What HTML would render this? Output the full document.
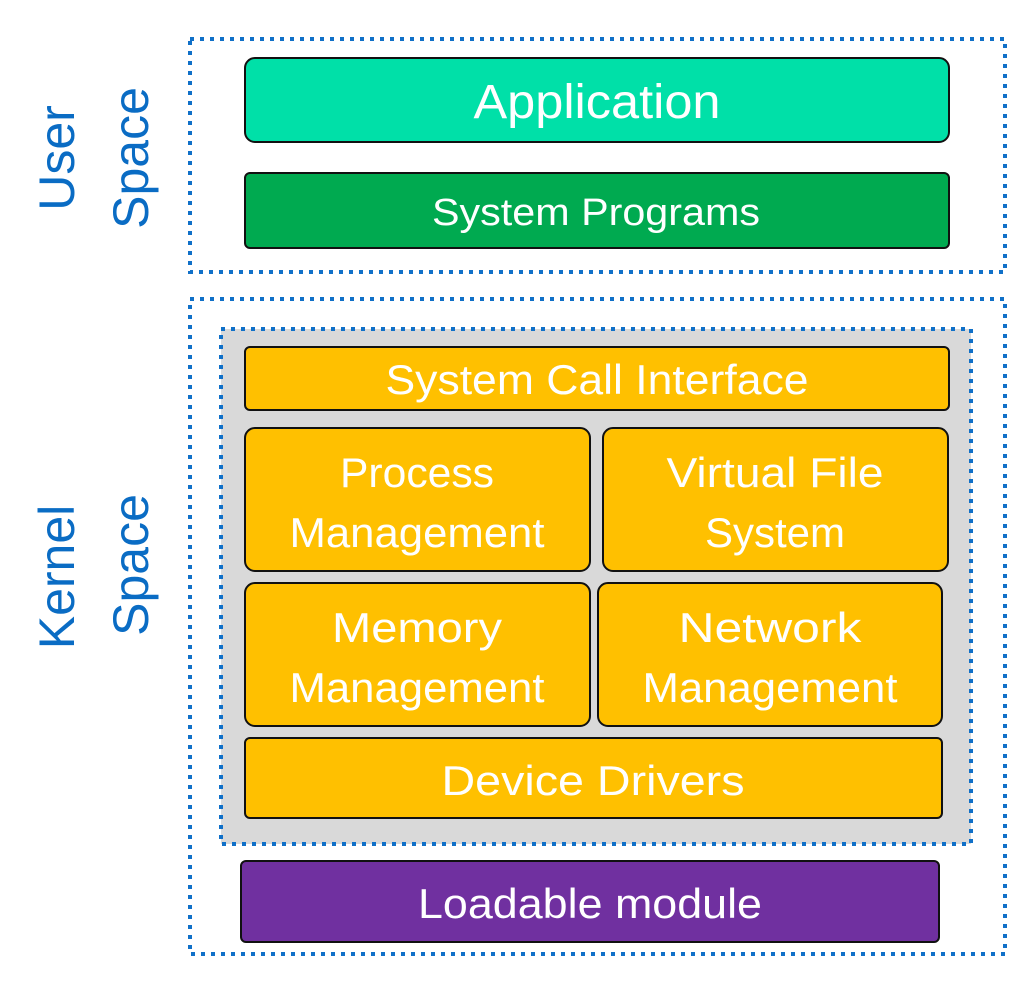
<!DOCTYPE html>
<html><head><style>body{margin:0;background:#fff}svg{display:block}text{font-family:"Liberation Sans",sans-serif}</style></head>
<body>
<svg width="1035" height="998" viewBox="0 0 1035 998" xmlns="http://www.w3.org/2000/svg">
<g fill="none" stroke="#1070C8" stroke-width="4" stroke-dasharray="4 6">
<rect x="190" y="39" width="815" height="233"/>
<rect x="190" y="299" width="815" height="655"/>
</g>
<rect x="221" y="329" width="750" height="515" fill="#D9D9D9" stroke="#1070C8" stroke-width="4" stroke-dasharray="4 6"/>
<g stroke="#111" stroke-width="2">
<rect x="245" y="58" width="704" height="84" rx="10" fill="#00E0A8"/>
<rect x="245" y="173" width="704" height="75" rx="5" fill="#00AA50"/>
<rect x="245" y="347" width="704" height="63" rx="5" fill="#FFC000"/>
<rect x="245" y="428" width="345" height="143" rx="10" fill="#FFC000"/>
<rect x="603" y="428" width="345" height="143" rx="10" fill="#FFC000"/>
<rect x="245" y="583" width="345" height="143" rx="10" fill="#FFC000"/>
<rect x="598" y="583" width="344" height="143" rx="10" fill="#FFC000"/>
<rect x="245" y="738" width="697" height="80" rx="5" fill="#FFC000"/>
<rect x="241" y="861" width="698" height="81" rx="5" fill="#7030A0"/>
</g>
<g fill="#fff" text-anchor="middle" font-size="42" lengthAdjust="spacingAndGlyphs">
<text x="597" y="118" font-size="48" textLength="247" lengthAdjust="spacingAndGlyphs">Application</text>
<text x="596" y="225" font-size="38" textLength="328" lengthAdjust="spacingAndGlyphs">System Programs</text>
<text x="597" y="394" textLength="423" lengthAdjust="spacingAndGlyphs">System Call Interface</text>
<text x="417" y="487" textLength="154" lengthAdjust="spacingAndGlyphs">Process</text>
<text x="417" y="547" textLength="255" lengthAdjust="spacingAndGlyphs">Management</text>
<text x="775" y="487" textLength="217" lengthAdjust="spacingAndGlyphs">Virtual File</text>
<text x="775" y="547" textLength="140" lengthAdjust="spacingAndGlyphs">System</text>
<text x="417" y="642" textLength="170" lengthAdjust="spacingAndGlyphs">Memory</text>
<text x="417" y="702" textLength="255" lengthAdjust="spacingAndGlyphs">Management</text>
<text x="770" y="642" textLength="183" lengthAdjust="spacingAndGlyphs">Network</text>
<text x="770" y="702" textLength="255" lengthAdjust="spacingAndGlyphs">Management</text>
<text x="593" y="795" textLength="303" lengthAdjust="spacingAndGlyphs">Device Drivers</text>
<text x="590" y="918" textLength="344" lengthAdjust="spacingAndGlyphs">Loadable module</text>
</g>
<g fill="#0A6CC4" text-anchor="middle" font-size="50">
<text transform="translate(74,158) rotate(-90)">User</text>
<text transform="translate(148,158) rotate(-90)">Space</text>
<text transform="translate(74,577) rotate(-90)">Kernel</text>
<text transform="translate(148,565) rotate(-90)">Space</text>
</g>
</svg>
</body></html>
